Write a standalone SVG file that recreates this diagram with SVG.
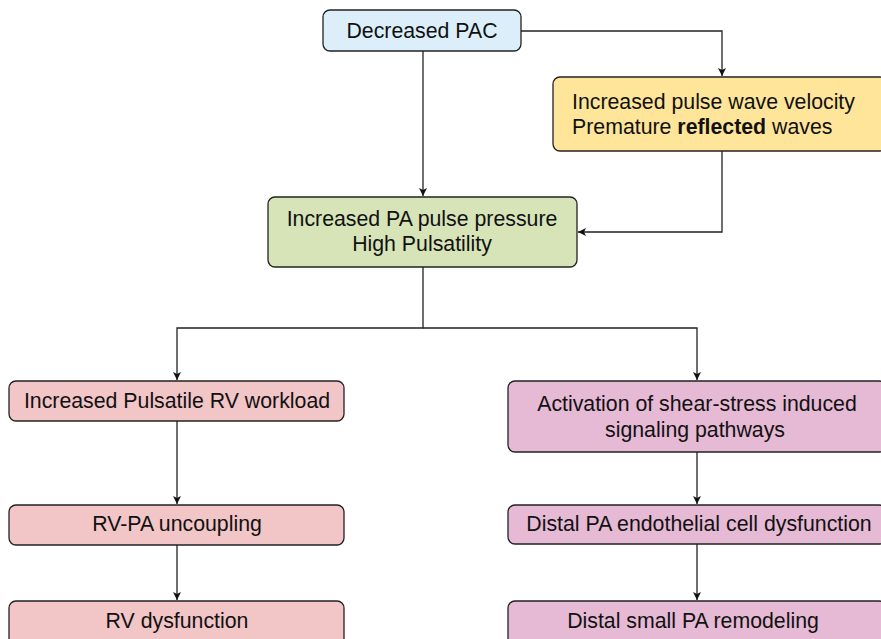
<svg xmlns="http://www.w3.org/2000/svg" width="881" height="639" viewBox="0 0 881 639">
<defs>
<marker id="arr" viewBox="0 0 10 10" refX="10" refY="5" markerWidth="8" markerHeight="8" markerUnits="userSpaceOnUse" orient="auto">
<path d="M0,0 L10,5 L0,10 L2.5,5 Z" fill="#111"/>
</marker>
<style>
.box{stroke:#222;stroke-width:1.3}
.t{font-family:"Liberation Sans",Arial,Helvetica,sans-serif;font-size:21.3px;fill:#111}
.c{text-anchor:middle}
.ln{fill:none;stroke:#222;stroke-width:1.3}
</style>
</defs>
<rect width="881" height="639" fill="#fff"/>
<g id="connectors">
<path class="ln" d="M521,31 H722 V76" marker-end="url(#arr)"/>
<path class="ln" d="M423,51 V196" marker-end="url(#arr)"/>
<path class="ln" d="M722,151 V232 H578" marker-end="url(#arr)"/>
<path class="ln" d="M423,267 V328 H177 V380" marker-end="url(#arr)"/>
<path class="ln" d="M423,328 H697 V380" marker-end="url(#arr)"/>
<path class="ln" d="M177,421 V504" marker-end="url(#arr)"/>
<path class="ln" d="M177,545 V600" marker-end="url(#arr)"/>
<path class="ln" d="M697,452 V504" marker-end="url(#arr)"/>
<path class="ln" d="M697,544 V600" marker-end="url(#arr)"/>
</g>
<g id="n-pac">
<rect class="box" x="323" y="10" width="198" height="41" rx="7" fill="#dbeefa"/>
<text class="t c" x="422" y="38">Decreased PAC</text>
</g>
<g id="n-pwv">
<rect class="box" x="553" y="77" width="334" height="74" rx="7" fill="#fee59a"/>
<text class="t" x="572" y="109">Increased pulse wave velocity</text>
<text class="t" x="572" y="134">Premature <tspan font-weight="bold">reflected</tspan> waves</text>
</g>
<g id="n-pp">
<rect class="box" x="268" y="197" width="309" height="70" rx="7" fill="#d6e4b8"/>
<text class="t c" x="422" y="226">Increased PA pulse pressure</text>
<text class="t c" x="422" y="251">High Pulsatility</text>
</g>
<g id="n-rvw">
<rect class="box" x="9" y="381" width="335" height="40" rx="7" fill="#f2c5c7"/>
<text class="t c" x="177" y="408">Increased Pulsatile RV workload</text>
</g>
<g id="n-rvpa">
<rect class="box" x="9" y="505" width="335" height="40" rx="7" fill="#f2c5c7"/>
<text class="t c" x="177" y="531">RV-PA uncoupling</text>
</g>
<g id="n-rvd">
<rect class="box" x="9" y="601" width="335" height="50" rx="7" fill="#f2c5c7"/>
<text class="t c" x="177" y="628">RV dysfunction</text>
</g>
<g id="n-shear">
<rect class="box" x="508" y="381" width="378" height="71" rx="7" fill="#e6b9d4"/>
<text class="t c" x="697" y="411">Activation of shear-stress induced</text>
<text class="t c" x="695" y="437">signaling pathways</text>
</g>
<g id="n-endo">
<rect class="box" x="508" y="505" width="378" height="39" rx="7" fill="#e6b9d4"/>
<text class="t c" x="699" y="531">Distal PA endothelial cell dysfunction</text>
</g>
<g id="n-remod">
<rect class="box" x="508" y="601" width="378" height="50" rx="7" fill="#e6b9d4"/>
<text class="t c" x="693" y="628">Distal small PA remodeling</text>
</g>
</svg>
